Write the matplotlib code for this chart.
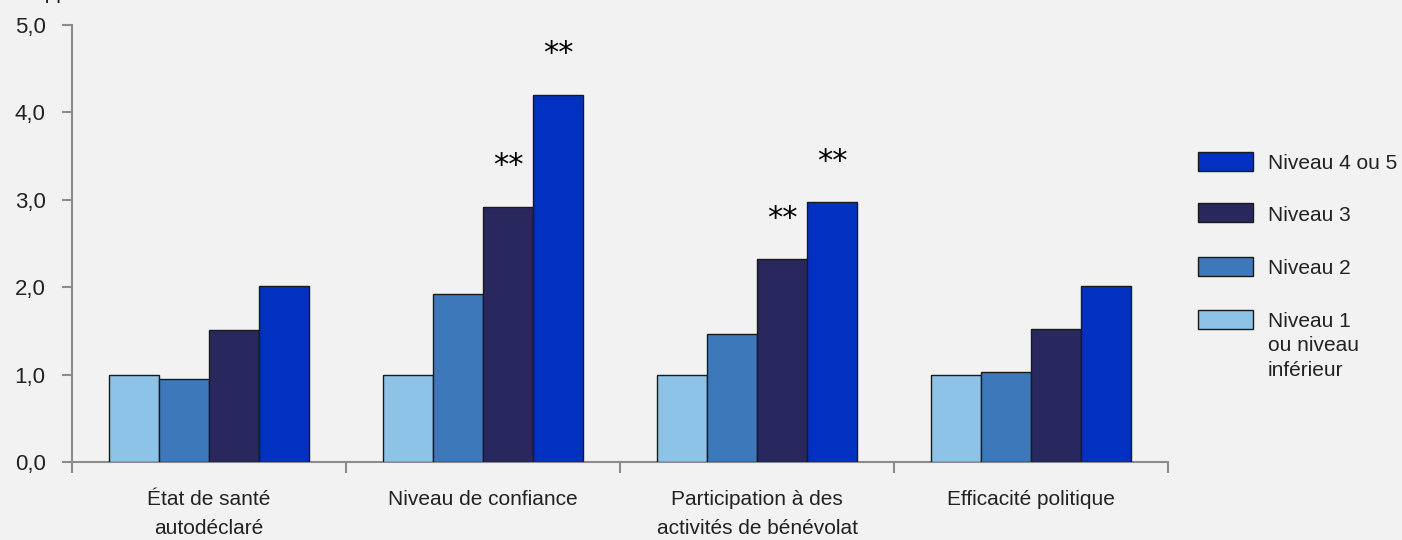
import numpy as np
import matplotlib
matplotlib.use("Agg")
import matplotlib.pyplot as plt
from matplotlib.patches import Rectangle

# categories and odds ratios per literacy level
categories = ["État de santé\nautodéclaré", "Niveau de confiance",
              "Participation à des\nactivités de bénévolat", "Efficacité politique"]
levels = ["Niveau 1\nou niveau\ninférieur", "Niveau 2", "Niveau 3", "Niveau 4 ou 5"]
niveau1 = [1.00, 1.00, 1.00, 1.00]
niveau2 = [0.95, 1.92, 1.47, 1.03]
niveau3 = [1.51, 2.92, 2.32, 1.52]
niveau45 = [2.01, 4.20, 2.97, 2.01]
# significance markers (category index, level index)
significant = [(1, 2), (1, 3), (2, 2), (2, 3)]
yticks = [0, 1, 2, 3, 4, 5]

colors = ["#8CC3E6", "#3D78BA", "#28285F", "#0231C1"]
bg = "#F2F2F2"
axis_grey = "#8C8C8C"
txt = "#222222"

plt.rcParams['font.family'] = ['Liberation Sans', 'DejaVu Sans']

fig = plt.figure(figsize=(14.02, 5.4), dpi=100, facecolor=bg)
ax = fig.add_axes([72 / 1402, 1 - 462 / 540, (1168 - 72) / 1402, (462 - 25) / 540])
ax.set_facecolor(bg)

series = [niveau1, niveau2, niveau3, niveau45]
x = np.arange(len(categories))
width = 0.1825
for i, vals in enumerate(series):
    ax.bar(x + (i - 1.5) * width, vals, width, color=colors[i],
           edgecolor="#1a1a1a", linewidth=1.0, zorder=3)

for ci, li in significant:
    val = series[li][ci]
    ax.text(ci + (li - 1.5) * width, val + 0.47, "**", ha="center", va="center",
            fontsize=22, family="DejaVu Sans", color="black")

ax.set_xlim(-0.5, len(categories) - 0.5)
ax.set_ylim(0, 5)
ax.set_yticks(yticks)
ax.set_yticklabels([f"{t:.1f}".replace(".", ",") for t in yticks], fontsize=16, color=txt)

# group boundaries as major ticks, labels on minor ticks
ax.set_xticks(np.arange(-0.5, len(categories), 1.0))
ax.set_xticklabels([])
ax.set_xticks(x, minor=True)
ax.set_xticklabels(categories, minor=True, fontsize=15, color=txt, linespacing=1.7)
ax.tick_params(axis="x", which="major", length=8, width=1.5, color=axis_grey)
ax.tick_params(axis="x", which="minor", length=0, pad=20)
ax.tick_params(axis="y", length=7, width=1.5, color=axis_grey, pad=12)

for side in ["top", "right"]:
    ax.spines[side].set_visible(False)
for side in ["left", "bottom"]:
    ax.spines[side].set_color(axis_grey)
    ax.spines[side].set_linewidth(1.5)

# y axis title, clipped at the top of the image as in the source
fig.text(18 / 1402, 1 + 1 / 540, "Rapport de cotes", fontsize=15, va="baseline",
         color=txt)

# legend drawn by hand (reversed order)
leg_y = [161, 213, 266, 319]
for k, li in enumerate(reversed(range(len(levels)))):
    yc = 1 - leg_y[k] / 540
    fig.patches.append(Rectangle((1198 / 1402, yc - 9.5 / 540), 55 / 1402, 19 / 540,
                                 transform=fig.transFigure, facecolor=colors[li],
                                 edgecolor="#1a1a1a", linewidth=1.0))
    fig.text(1268 / 1402, yc + 7 / 540, levels[li], fontsize=15, va="top",
             ha="left", color=txt, linespacing=1.35)

fig.savefig("out.png", dpi=100, facecolor=bg)
